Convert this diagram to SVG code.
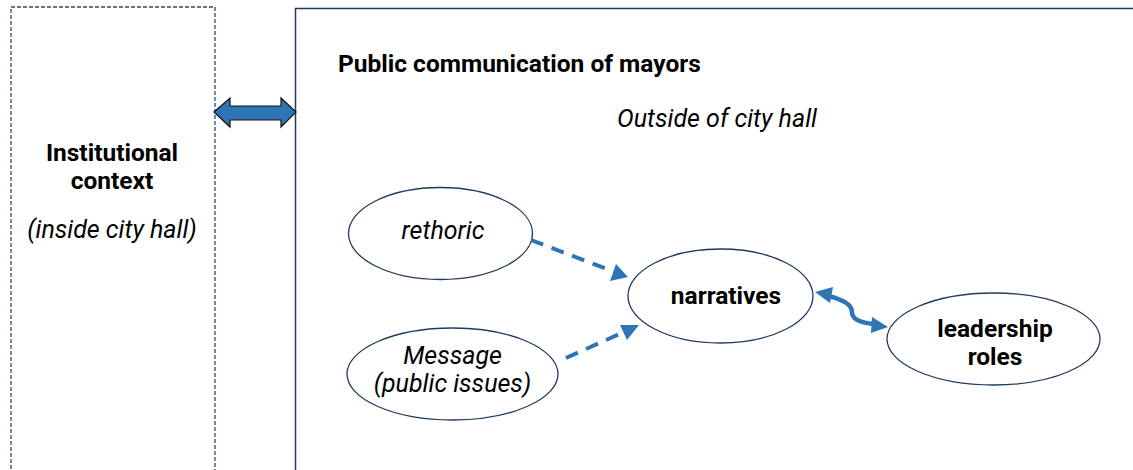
<svg xmlns="http://www.w3.org/2000/svg" width="1133" height="470" viewBox="0 0 1133 470">
  <style>
    .lbl { font-family: Roboto, "Liberation Sans", Arial, sans-serif; font-size: 24px; fill: #000; }
    .b { font-weight: bold; font-size: 24.5px; }
    .i { font-style: italic; font-size: 25px; }
    .node { fill: #fff; stroke: #1F3A5F; stroke-width: 1.3; }
    .dash { fill: none; stroke: #2E75B6; stroke-width: 4; stroke-dasharray: 13 9; }
    .curve { fill: none; stroke: #2E75B6; stroke-width: 4.5; stroke-linecap: round; }
  </style>
  <rect width="1133" height="470" fill="#fff"/>

  <!-- institutional context frame -->
  <g id="institutional">
    <rect x="11" y="7" width="204" height="480" fill="none" stroke="#2E4A6B" stroke-width="1.3" stroke-dasharray="4 2"/>
    <text class="lbl b" x="112" y="161" text-anchor="middle">Institutional</text>
    <text class="lbl b" x="112" y="189" text-anchor="middle">context</text>
    <text class="lbl i" x="112" y="238" text-anchor="middle">(inside city hall)</text>
  </g>

  <!-- public communication frame -->
  <g id="public">
    <rect x="295.5" y="8.5" width="860" height="480" fill="none" stroke="#1F3A5F" stroke-width="1.5"/>
    <text class="lbl b" x="338" y="72">Public communication of mayors</text>
    <text class="lbl i" x="617" y="127">Outside of city hall</text>
  </g>

  <g id="rethoric">
    <ellipse class="node" cx="440.5" cy="233.5" rx="92" ry="46"/>
    <text class="lbl i" x="443" y="239" text-anchor="middle">rethoric</text>
  </g>
  <g id="message">
    <ellipse class="node" cx="452.5" cy="374" rx="105.5" ry="46"/>
    <text class="lbl i" x="452.5" y="364" text-anchor="middle">Message</text>
    <text class="lbl i" x="452.5" y="392" text-anchor="middle">(public issues)</text>
  </g>
  <g id="narratives">
    <ellipse class="node" cx="720.5" cy="296" rx="92.5" ry="47"/>
    <text class="lbl b" x="726" y="304" text-anchor="middle">narratives</text>
  </g>
  <g id="leadership">
    <ellipse class="node" cx="993.5" cy="339" rx="106.5" ry="46"/>
    <text class="lbl b" x="995" y="337" text-anchor="middle">leadership</text>
    <text class="lbl b" x="995" y="365" text-anchor="middle">roles</text>
  </g>

  <g id="connectors">
    <!-- block double arrow between the two frames -->
    <path d="M214,112 L230,98 L230,106 L281,106 L281,98 L296,112 L281,127 L281,120 L230,120 L230,127 Z" fill="#2E75B6" stroke="#111" stroke-width="1.2" stroke-linejoin="miter"/>
    <path class="dash" d="M531,240 L612,271" />
    <path d="M628,277 L610,281 L616,264 Z" fill="#2E75B6"/>
    <path class="dash" d="M566,358 L624,332" />
    <path d="M639,325 L627,340 L620,325 Z" fill="#2E75B6"/>
    <path class="curve" d="M828,296 C845,300 852,305 852,312 C852,320 862,323 874,324" />
    <path d="M815,292 L833,287 L830,303 Z" fill="#2E75B6"/>
    <path d="M888,327 L871,333 L872,317 Z" fill="#2E75B6"/>
  </g>
</svg>
